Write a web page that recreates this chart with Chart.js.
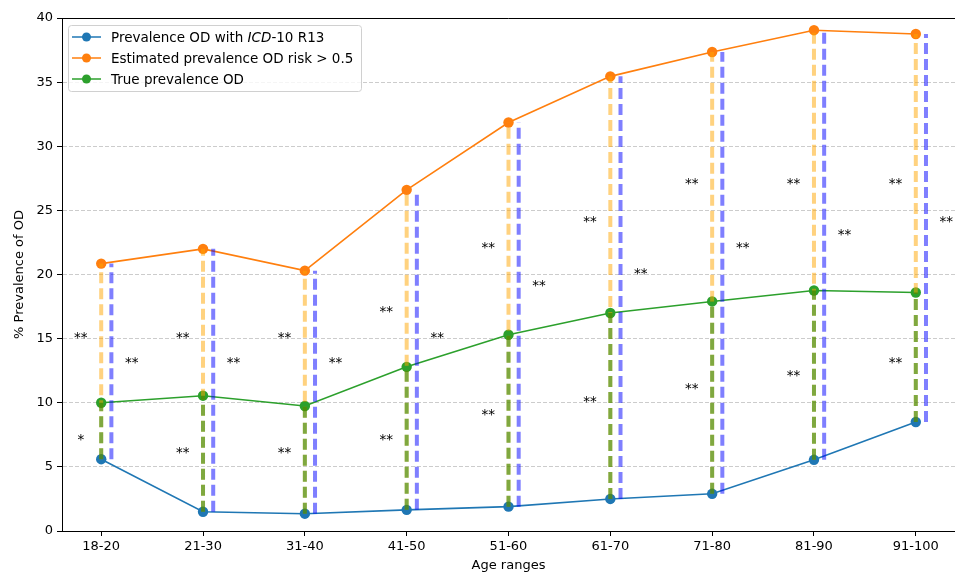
<!DOCTYPE html>
<html lang="en">
<head>
  <meta charset="UTF-8">
  <title>Prevalence of OD by age</title>
  <script src="https://cdn.jsdelivr.net/npm/chart.js"></script>
  <style>
    html, body {
      margin: 0;
      padding: 0;
      background: #ffffff;
      overflow: hidden;
    }
    #chart {
      display: block;
    }
  </style>
</head>
<body>
  <canvas id="chart" width="955" height="572"></canvas>

<script>
  // values
  const ageRanges = ['18-20', '21-30', '31-40', '41-50', '51-60', '61-70', '71-80', '81-90', '91-100'];
  const icdPrevalence = [5.6, 1.5, 1.35, 1.65, 1.9, 2.5, 2.9, 5.55, 8.5];
  const estimatedPrevalence = [20.85, 22.0, 20.3, 26.6, 31.85, 35.45, 37.35, 39.05, 38.75];
  const truePrevalence = [10.0, 10.55, 9.75, 12.8, 15.3, 17.0, 17.9, 18.75, 18.6];

  // significance marks
  const upperStars = ['**', '**', '**', '**', '**', '**', '**', '**', '**'];
  const upperStarY = [15, 15, 15, 17, 22, 24, 27, 27, 27];
  const lowerStars = ['*', '**', '**', '**', '**', '**', '**', '**', '**'];
  const lowerStarY = [7, 6, 6, 7, 9, 10, 11, 12, 13];
  const rightStars = ['**', '**', '**', '**', '**', '**', '**', '**', '**'];
  const rightStarY = [13, 13, 13, 15, 19, 20, 22, 23, 24];

  const yTicks = [0, 5, 10, 15, 20, 25, 30, 35, 40];

  const FONT = 'DejaVu Sans, sans-serif';

  function pts(values) {
    return values.map((v, i) => ({ x: i, y: v }));
  }

  // vertical segments drawn bottom -> top (so dashes line up), broken with nulls
  function segments(bottoms, tops, shift) {
    const out = [];
    bottoms.forEach((b, i) => {
      out.push({ x: i + shift, y: b });
      out.push({ x: i + shift, y: tops[i] });
      out.push({ x: i + shift, y: null });
    });
    return out;
  }

  const extras = {
    id: 'extras',
    afterDatasetsDraw(chart) {
      const ctx = chart.ctx;
      const xs = chart.scales.x;
      const ys = chart.scales.y;
      ctx.save();
      ctx.fillStyle = '#000';
      ctx.font = '13.5px ' + FONT;
      ctx.textAlign = 'center';
      ctx.textBaseline = 'alphabetic';
      const drawStars = (labels, yv, dx) => {
        labels.forEach((s, i) => {
          ctx.fillText(s, xs.getPixelForValue(i + dx), ys.getPixelForValue(yv[i]) + 3);
        });
      };
      drawStars(upperStars, upperStarY, -0.2);
      drawStars(lowerStars, lowerStarY, -0.2);
      drawStars(rightStars, rightStarY, 0.3);
      ctx.restore();
    },
    afterDraw(chart) {
      const ctx = chart.ctx;
      const a = chart.chartArea;
      ctx.save();
      // top spine
      ctx.strokeStyle = '#000';
      ctx.lineWidth = 1;
      ctx.beginPath();
      ctx.moveTo(a.left, a.top + 0.5);
      ctx.lineTo(a.right, a.top + 0.5);
      ctx.stroke();

      // axis titles
      ctx.fillStyle = '#000';
      ctx.font = '13px ' + FONT;
      ctx.textAlign = 'center';
      ctx.textBaseline = 'middle';
      ctx.fillText('Age ranges', (a.left + a.right) / 2, 566);
      ctx.save();
      ctx.translate(20, (a.top + a.bottom) / 2);
      ctx.rotate(-Math.PI / 2);
      ctx.fillText('% Prevalence of OD', 0, 0);
      ctx.restore();

      // legend
      const lx = 68.5, ly = 25.5, lw = 293, lh = 66;
      ctx.beginPath();
      ctx.roundRect(lx, ly, lw, lh, 3);
      ctx.fillStyle = 'rgba(255,255,255,0.8)';
      ctx.fill();
      ctx.strokeStyle = '#d0d0d0';
      ctx.lineWidth = 1;
      ctx.stroke();

      const rows = [
        { color: '#1f77b4', parts: [['Prevalence OD with ', false], ['ICD', true], ['-10 R13', false]] },
        { color: '#ff7f0e', parts: [['Estimated prevalence OD risk > 0.5', false]] },
        { color: '#2ca02c', parts: [['True prevalence OD', false]] }
      ];
      rows.forEach((r, k) => {
        const y = 37 + k * 21;
        ctx.strokeStyle = r.color;
        ctx.lineWidth = 1.5;
        ctx.beginPath();
        ctx.moveTo(72, y);
        ctx.lineTo(101, y);
        ctx.stroke();
        ctx.fillStyle = r.color;
        ctx.beginPath();
        ctx.arc(86.5, y, 4.5, 0, Math.PI * 2);
        ctx.fill();
        let tx = 111;
        ctx.fillStyle = '#000';
        ctx.textAlign = 'left';
        r.parts.forEach(([txt, it]) => {
          ctx.font = (it ? 'italic ' : '') + '13.5px ' + FONT;
          ctx.fillText(txt, tx, y + 1);
          tx += ctx.measureText(txt).width;
        });
      });
      ctx.restore();
    }
  };

  const mainLine = (label, values, color) => ({
    label: label,
    data: pts(values),
    borderColor: color,
    backgroundColor: color,
    borderWidth: 1.6,
    pointRadius: 5.2,
    pointBorderWidth: 0,
    pointBackgroundColor: color,
    order: 5
  });

  const dashLine = (data, color, order) => ({
    data: data,
    borderColor: color,
    borderWidth: 4,
    borderDash: [11, 5],
    pointRadius: 0,
    spanGaps: false,
    order: order
  });

  new Chart(document.getElementById('chart'), {
    type: 'line',
    data: {
      datasets: [
        dashLine(segments(icdPrevalence, truePrevalence, 0), 'rgba(0,128,0,0.5)', 0),
        dashLine(segments(icdPrevalence, estimatedPrevalence, 0), 'rgba(255,165,0,0.5)', 1),
        dashLine(segments(icdPrevalence, estimatedPrevalence, 0.1), 'rgba(0,0,255,0.5)', 1),
        mainLine('Prevalence OD with ICD-10 R13', icdPrevalence, '#1f77b4'),
        mainLine('Estimated prevalence OD risk > 0.5', estimatedPrevalence, '#ff7f0e'),
        mainLine('True prevalence OD', truePrevalence, '#2ca02c')
      ]
    },
    options: {
      responsive: false,
      devicePixelRatio: 1,
      animation: false,
      layout: { autoPadding: false, padding: { top: 18, right: 0, left: 0, bottom: 0 } },
      plugins: {
        legend: { display: false },
        tooltip: { enabled: false }
      },
      scales: {
        x: {
          type: 'linear',
          min: -0.385,
          max: 8.385,
          afterBuildTicks: s => { s.ticks = ageRanges.map((_, i) => ({ value: i })); },
          afterFit: s => { s.height = 41; s.paddingLeft = 0; s.paddingRight = 0; },
          ticks: {
            autoSkip: false,
            maxRotation: 0,
            padding: 3,
            color: '#000',
            font: { family: FONT, size: 13 },
            callback: v => ageRanges[v]
          },
          grid: {
            drawOnChartArea: false,
            drawTicks: true,
            tickLength: 5,
            color: '#000',
            tickColor: '#000'
          },
          border: { display: true, color: '#000', width: 1 }
        },
        y: {
          min: 0,
          max: 40,
          afterBuildTicks: s => { s.ticks = yTicks.map(v => ({ value: v })); },
          afterFit: s => { s.width = 62; s.paddingTop = 0; s.paddingBottom = 0; },
          ticks: {
            padding: 4,
            color: '#000',
            font: { family: FONT, size: 13 }
          },
          grid: {
            color: 'rgba(170,170,170,0.75)',
            lineWidth: 0.8,
            tickLength: 5,
            tickColor: '#000',
            tickWidth: 1
          },
          border: { display: true, color: '#000', width: 1, dash: [4, 2] }
        }
      }
    },
    plugins: [extras]
  });
</script>
</body>
</html>
